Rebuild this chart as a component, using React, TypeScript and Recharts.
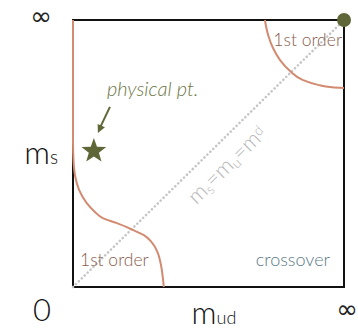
import React from 'react';
import { ComposedChart, Line, Scatter, XAxis, YAxis, ReferenceArea, ReferenceDot } from 'recharts';

// phase boundaries (x = m_ud, y = m_s, both 0..1 with 1 = infinity)
const lowerFirstOrder = [
  { x: 0, y: 1 },
  { x: 0, y: 0.7 },
  { x: 0, y: 0.54 },
  { x: 0.002, y: 0.47 },
  { x: 0.008, y: 0.415 },
  { x: 0.022, y: 0.365 },
  { x: 0.05, y: 0.315 },
  { x: 0.08, y: 0.282 },
  { x: 0.11, y: 0.258 },
  { x: 0.16, y: 0.24 },
  { x: 0.22, y: 0.214 },
  { x: 0.26, y: 0.195 },
  { x: 0.29, y: 0.168 },
  { x: 0.312, y: 0.13 },
  { x: 0.325, y: 0.08 },
  { x: 0.332, y: 0.03 },
  { x: 0.335, y: 0 },
];

const upperFirstOrder = [
  { x: 0.708, y: 1 },
  { x: 0.72, y: 0.944 },
  { x: 0.738, y: 0.895 },
  { x: 0.764, y: 0.85 },
  { x: 0.801, y: 0.809 },
  { x: 0.849, y: 0.775 },
  { x: 0.904, y: 0.757 },
  { x: 0.956, y: 0.748 },
  { x: 1, y: 0.745 },
];

const diagonal = [
  { x: 0, y: 0 },
  { x: 1, y: 1 },
];

const physicalPoint = [{ x: 0.077, y: 0.509 }];

const xTicks = [0, 0.52, 1];
const xTickLabels = [['0', ''], ['m', 'ud'], ['∞', '']];
const yTicks = [0.51, 1];
const yTickLabels = [['m', 's'], ['∞', '']];

const FONT = "Lato, 'Liberation Sans', sans-serif";
const INF_FONT = "'DejaVu Sans', sans-serif";
const SALMON = '#d28a70';
const OLIVE = '#5f6638';

const XTick = (props: any) => {
  const { x, payload } = props;
  const i = xTicks.indexOf(payload.value);
  const [main, sub] = xTickLabels[i];
  if (i === 0) {
    return (
      <text x={x - 31} y={321} textAnchor="middle" fontSize={31} fontWeight={300} fontFamily={FONT} fill="#111">
        {main}
      </text>
    );
  }
  if (i === 2) {
    return (
      <text x={x + 3} y={318} textAnchor="middle" fontSize={26} fontFamily={INF_FONT} fill="#222">
        {main}
      </text>
    );
  }
  return (
    <text x={x} y={324} textAnchor="middle" fontSize={31} fontWeight={300} fontFamily={FONT} fill="#111">
      {main}
      <tspan fontSize={18}>{sub}</tspan>
    </text>
  );
};

const YTick = (props: any) => {
  const { y, payload } = props;
  const i = yTicks.indexOf(payload.value);
  const [main, sub] = yTickLabels[i];
  if (sub === '') {
    return (
      <text x={41} y={25} textAnchor="middle" fontSize={26} fontFamily={INF_FONT} fill="#222">
        {main}
      </text>
    );
  }
  return (
    <text x={58} y={y + 13} textAnchor="end" fontSize={32} fontWeight={300} fontFamily={FONT} fill="#111">
      {main}
      <tspan fontSize={19}>{sub}</tspan>
    </text>
  );
};

const Star = (props: any) => {
  const { cx, cy } = props;
  const pts: string[] = [];
  for (let k = 0; k < 10; k++) {
    const r = k % 2 === 0 ? 13 : 5.3;
    const a = -Math.PI / 2 + (k * Math.PI) / 5;
    pts.push(`${cx + r * Math.cos(a)},${cy + r * Math.sin(a)}`);
  }
  return <polygon points={pts.join(' ')} fill={OLIVE} />;
};

const note = (text: string, color: string, anchor: string, size: number, italic = false) => (p: any) => (
  <text
    x={p.cx}
    y={p.cy}
    textAnchor={anchor}
    fontSize={size}
    fontStyle={italic ? 'italic' : 'normal'}
    fontWeight={300}
    fontFamily={FONT}
    fill={color}
  >
    {text}
  </text>
);

const Arrow = (p: any) => {
  const { cx, cy } = p;
  return (
    <g>
      <line x1={cx + 12} y1={cy - 26} x2={cx + 2} y2={cy - 5} stroke={OLIVE} strokeWidth={2} />
      <polygon points={`${cx},${cy} ${cx + 7},${cy - 5.6} ${cx - 0.3},${cy - 8.9}`} fill={OLIVE} />
    </g>
  );
};

const DiagonalText = (p: any) => {
  const { cx, cy } = p;
  return (
    <text
      x={cx}
      y={cy}
      textAnchor="middle"
      transform={`rotate(-44.6 ${cx} ${cy})`}
      fontSize={22}
      fontWeight={300}
      fontFamily={FONT}
      fill="#b8b8b8"
    >
      m<tspan fontSize={14} dy={3}>s</tspan>
      <tspan dy={-3}>=m</tspan>
      <tspan fontSize={14} dy={3}>u</tspan>
      <tspan dy={-3}>=m</tspan>
      <tspan fontSize={14} dy={-5}>d</tspan>
    </text>
  );
};

export default function App() {
  return (
    <div style={{ position: 'absolute', left: 0, top: 0, background: '#fff' }}>
      <ComposedChart width={358} height={331} margin={{ top: 20, right: 14, bottom: 0, left: 0 }}>
        <XAxis
          type="number"
          dataKey="x"
          domain={[0, 1]}
          ticks={xTicks}
          interval={0}
          height={44}
          axisLine={false}
          tickLine={false}
          tick={<XTick />}
        />
        <YAxis
          type="number"
          dataKey="y"
          domain={[0, 1]}
          ticks={yTicks}
          interval={0}
          width={73}
          axisLine={false}
          tickLine={false}
          tick={<YTick />}
        />
        <ReferenceArea x1={0} x2={1} y1={0} y2={1} fill="none" stroke="#111" strokeWidth={2} fillOpacity={0} />
        <Line
          data={diagonal}
          dataKey="y"
          type="linear"
          stroke="#c6c6c6"
          strokeWidth={2.6}
          strokeDasharray="0.1 4"
          strokeLinecap="round"
          dot={false}
          isAnimationActive={false}
        />
        <Line
          data={lowerFirstOrder}
          dataKey="y"
          type="monotoneY"
          stroke={SALMON}
          strokeWidth={2}
          dot={false}
          isAnimationActive={false}
        />
        <Line
          data={upperFirstOrder}
          dataKey="y"
          type="monotoneY"
          stroke={SALMON}
          strokeWidth={2}
          dot={false}
          isAnimationActive={false}
        />
        <Scatter data={physicalPoint} dataKey="y" shape={<Star />} isAnimationActive={false} />
        <ReferenceDot x={1} y={1} r={7} fill={OLIVE} stroke="none" />
        <ReferenceDot x={0.993} y={0.903} r={0} shape={note('1st order', '#8a5d4e', 'end', 17.5)} />
        <ReferenceDot x={0.026} y={0.079} r={0} shape={note('1st order', '#8a5d4e', 'start', 17.5)} />
        <ReferenceDot x={0.948} y={0.079} r={0} shape={note('crossover', '#5b7a86', 'end', 18)} />
        <ReferenceDot x={0.125} y={0.716} r={0} shape={note('physical pt.', '#6e7545', 'start', 20, true)} />
        <ReferenceDot x={0.092} y={0.577} r={0} shape={<Arrow />} />
        <ReferenceDot x={0.587} y={0.438} r={0} shape={<DiagonalText />} />
      </ComposedChart>
    </div>
  );
}
